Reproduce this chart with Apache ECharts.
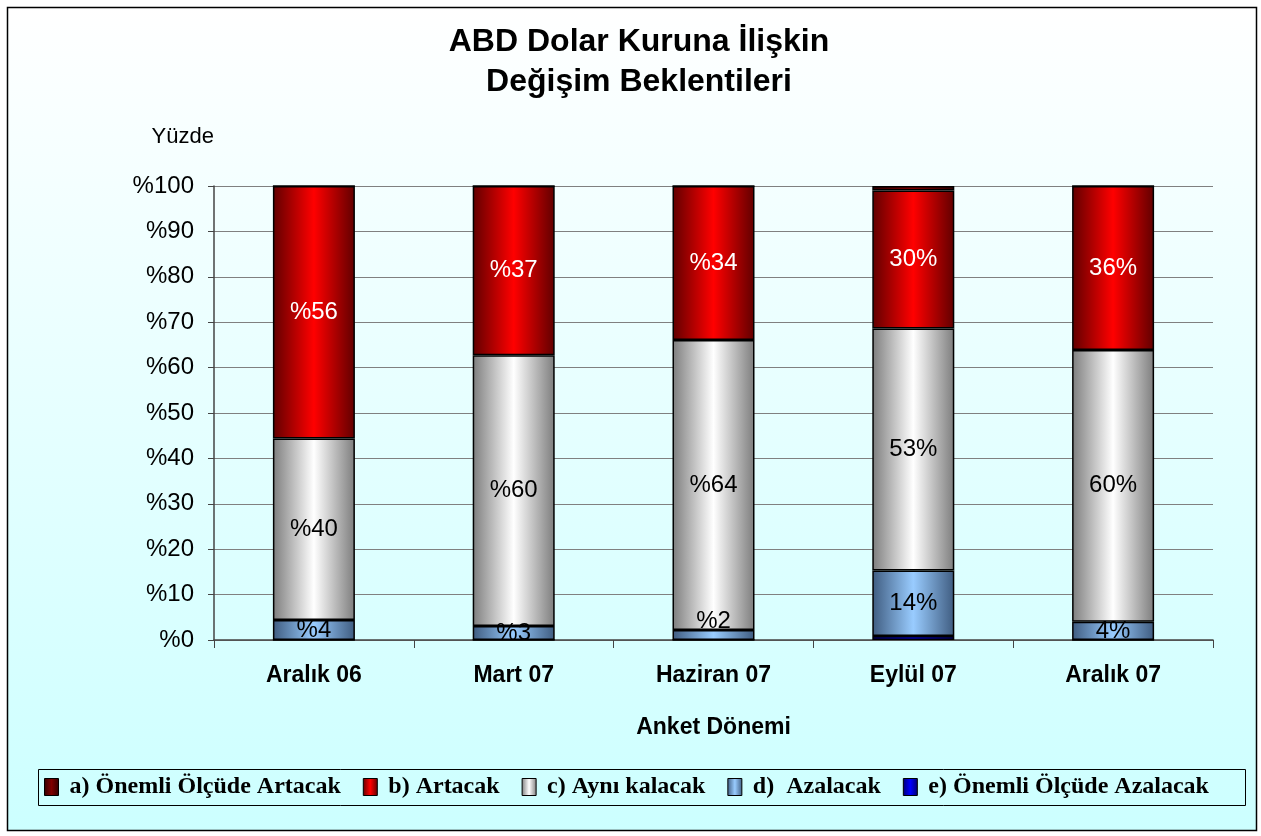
<!DOCTYPE html>
<html>
<head>
<meta charset="UTF-8">
<title>ABD Dolar Kuruna İlişkin Değişim Beklentileri</title>
<script src="https://cdn.jsdelivr.net/npm/echarts@6/dist/echarts.min.js"></script>
<style>
    html, body { margin: 0; padding: 0; background: #fff; }
    #chart { width: 1261px; height: 836px; }
</style>
</head>
<body>
<div id="chart"></div>
<script>
    // data (percent of answers, each period sums to 100)
    const categories = ['Aralık 06', 'Mart 07', 'Haziran 07', 'Eylül 07', 'Aralık 07'];
    const onemliArtacak = [0, 0, 0, 1.0, 0];
    const artacak = [55.6, 37.3, 33.9, 30.4, 36.1];
    const ayniKalacak = [40.0, 59.6, 63.9, 53.3, 59.9];
    const azalacak = [4.4, 3.1, 2.2, 14.4, 4.0];
    const onemliAzalacak = [0, 0, 0, 0.9, 0];
    // first three periods were labelled "%N", the last two "N%"
    const prefixPercent = [true, true, true, false, false];
    const yTicks = [0, 10, 20, 30, 40, 50, 60, 70, 80, 90, 100];

    const sans = '"Liberation Sans", Arial, sans-serif';
    const serif = '"Liberation Serif", "Times New Roman", serif';

    function grad(edge, mid) {
        return new echarts.graphic.LinearGradient(0, 0, 1, 0, [
            { offset: 0, color: edge },
            { offset: 0.5, color: mid },
            { offset: 1, color: edge }
        ]);
    }

    function pctLabel(p) {
        const v = Math.round(p.value);
        return prefixPercent[p.dataIndex] ? '%' + v : v + '%';
    }

    const chart = echarts.init(document.getElementById('chart'));

    const barBase = {
        type: 'bar',
        stack: 'total',
        barWidth: 82,
        itemStyle: { borderColor: '#000', borderWidth: 1.5 }
    };

    const labelBase = {
        show: true,
        position: 'inside',
        fontFamily: sans,
        fontSize: 24,
        color: '#000',
        formatter: pctLabel
    };

    chart.setOption({
        backgroundColor: '#fff',
        animation: false,
        graphic: [
            {
                type: 'rect', z: -10, silent: true,
                shape: { x: 7.5, y: 7.5, width: 1249, height: 823 },
                style: {
                    fill: new echarts.graphic.LinearGradient(0, 0, 0, 1, [
                        { offset: 0, color: '#ffffff' },
                        { offset: 1, color: '#ccffff' }
                    ]),
                    stroke: '#000', lineWidth: 1.5
                }
            },
            {
                type: 'rect', z: -5, silent: true,
                shape: { x: 38.5, y: 769.5, width: 1207, height: 36 },
                style: { fill: 'none', stroke: '#000', lineWidth: 1 }
            },
            {
                type: 'text', silent: true,
                x: 639, y: 62,
                style: {
                    text: 'ABD Dolar Kuruna İlişkin\nDeğişim Beklentileri',
                    fontFamily: sans, fontSize: 32, fontWeight: 'bold', fill: '#000',
                    lineHeight: 40, align: 'center', verticalAlign: 'middle'
                }
            }
        ],
        legend: {
            data: [
                'a) Önemli Ölçüde Artacak',
                'b) Artacak',
                'c) Aynı kalacak',
                'd)  Azalacak',
                'e) Önemli Ölçüde Azalacak'
            ],
            left: 44,
            top: 775,
            padding: 0,
            itemWidth: 14,
            itemHeight: 17,
            itemGap: 22,
            icon: 'rect',
            itemStyle: { borderColor: '#000', borderWidth: 1 },
            textStyle: { fontFamily: serif, fontSize: 24, fontWeight: 'bold', color: '#000', padding: [0, 0, 0, 6] }
        },
        grid: { left: 214, right: 48, top: 186, bottom: 196 },
        xAxis: {
            type: 'category',
            data: categories,
            name: 'Anket Dönemi',
            nameLocation: 'middle',
            nameGap: 76,
            nameTextStyle: { fontFamily: sans, fontSize: 23, fontWeight: 'bold', color: '#000' },
            axisLine: { lineStyle: { color: '#444', width: 1.5 } },
            axisTick: { show: true, interval: 0, length: 8, lineStyle: { color: '#444' } },
            axisLabel: { margin: 24, fontFamily: sans, fontSize: 23, fontWeight: 'bold', color: '#000', interval: 0 }
        },
        yAxis: {
            type: 'value',
            min: yTicks[0],
            max: yTicks[yTicks.length - 1],
            interval: yTicks[1] - yTicks[0],
            name: 'Yüzde',
            nameLocation: 'end',
            nameGap: 38,
            nameTextStyle: { fontFamily: sans, fontSize: 22, color: '#000', align: 'right' },
            axisLine: { show: true, lineStyle: { color: '#444', width: 1.5 } },
            axisTick: { show: true, length: 6, lineStyle: { color: '#444' } },
            splitLine: { lineStyle: { color: '#808080', width: 1 } },
            axisLabel: {
                margin: 20,
                fontFamily: sans,
                fontSize: 24,
                color: '#000',
                formatter: v => '%' + v
            }
        },
        series: [
            Object.assign({}, barBase, {
                name: 'e) Önemli Ölçüde Azalacak',
                data: onemliAzalacak,
                color: grad('#000070', '#0000ff')
            }),
            Object.assign({}, barBase, {
                name: 'd)  Azalacak',
                data: azalacak.map((v, i) => i === 2 ? { value: v, label: { offset: [0, -14] } } : v),
                color: grad('#3f5c80', '#99ccff'),
                label: labelBase
            }),
            Object.assign({}, barBase, {
                name: 'c) Aynı kalacak',
                data: ayniKalacak,
                color: grad('#7d7d7d', '#ffffff'),
                label: labelBase
            }),
            Object.assign({}, barBase, {
                name: 'b) Artacak',
                data: artacak,
                color: grad('#600000', '#ff0000'),
                label: Object.assign({}, labelBase, { color: '#fff' })
            }),
            Object.assign({}, barBase, {
                name: 'a) Önemli Ölçüde Artacak',
                data: onemliArtacak,
                color: grad('#300000', '#800000')
            })
        ]
    });
</script>
</body>
</html>
